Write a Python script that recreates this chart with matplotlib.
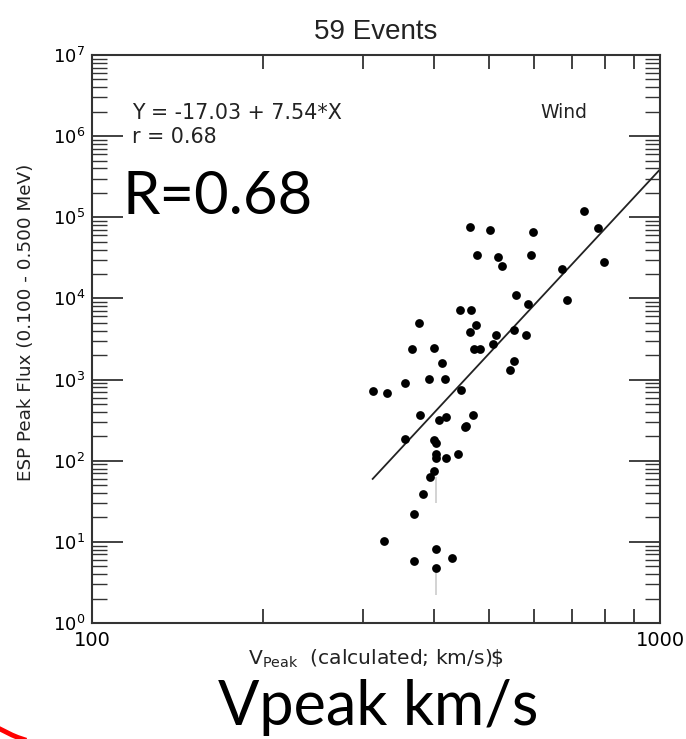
import matplotlib
matplotlib.use("Agg")
import matplotlib.pyplot as plt
import matplotlib.ticker as mticker
from matplotlib.lines import Line2D
import numpy as np

# speed (km/s) and peak flux for the 59 events
vpeak = [463, 502, 598, 736, 779, 798, 476, 519, 526, 593,
         671, 687, 558, 586, 445, 465, 377, 475, 462, 515,
         553, 581, 508, 471, 483, 366, 400, 414, 554, 544,
         356, 392, 418, 312, 331, 446, 378, 409, 420, 468,
         453, 456, 356, 400, 404, 403, 403, 420, 441, 400,
         394, 383, 369, 326, 403, 369, 430, 403]
flux = [7.66e4, 6.91e4, 6.64e4, 1.2e5, 7.44e4, 2.79e4, 3.46e4, 3.27e4, 2.49e4, 3.46e4,
        2.31e4, 9.57e3, 1.1e4, 8.54e3, 7.14e3, 7.14e3, 4.98e3, 4.71e3, 3.83e3, 3.51e3,
        4.05e3, 3.51e3, 2.77e3, 2.36e3, 2.36e3, 2.38e3, 2.47e3, 1.6e3, 1.68e3, 1.31e3,
        907, 1016, 1016, 729, 683, 744, 363, 318, 346, 363,
        258, 270, 187, 182, 164, 120, 108, 107, 120, 75.4,
        63.6, 38.9, 21.9, 10.2, 8.24, 5.86, 6.27, 4.72]

# faint error bars
err_v = [403, 403]
err_lo = [30, 2.2]
err_hi = [63, 4.7]

fit_a = -17.03
fit_b = 7.54

W, H = 686, 739
fig = plt.figure(figsize=(W / 100, H / 100), dpi=100)
ax = fig.add_axes([92/W, 1 - 623/H, 568/W, 568/H])

ax.vlines(err_v, err_lo, err_hi, color="#cccccc", lw=1.2, zorder=1)
ax.scatter(vpeak, flux, s=40, color="black", zorder=3, linewidths=0)

xfit = np.array([min(vpeak), 1000])
ax.plot(xfit, 10 ** (fit_a + fit_b * np.log10(xfit)), color="#222222", lw=1.3, zorder=2)

ax.set_xscale("log")
ax.set_yscale("log")
ax.set_xlim(100, 1000)
ax.set_ylim(1, 1e7)

for s in ax.spines.values():
    s.set_color("#333333")
    s.set_linewidth(1.5)

ax.xaxis.set_major_locator(mticker.FixedLocator([100, 1000]))
ax.xaxis.set_major_formatter(mticker.FixedFormatter(["100", "1000"]))
ax.xaxis.set_minor_locator(mticker.FixedLocator(list(range(200, 1000, 100))))
ax.xaxis.set_minor_formatter(mticker.NullFormatter())
ax.yaxis.set_major_locator(mticker.LogLocator(base=10, numticks=10))
ax.yaxis.set_minor_locator(mticker.LogLocator(base=10, subs=np.arange(2, 10), numticks=20))
ax.yaxis.set_minor_formatter(mticker.NullFormatter())

ax.tick_params(axis="x", which="major", length=0, pad=6, labelsize=14)
ax.tick_params(axis="x", which="minor", direction="in", length=10, width=1.3,
               top=True, bottom=True, color="#333333")
ax.tick_params(axis="y", which="major", direction="in", length=22, width=1.3,
               left=True, right=True, labelsize=13, pad=5, color="#333333")
ax.tick_params(axis="y", which="minor", direction="in", length=11, width=1.0,
               left=True, right=True, color="#333333")

fig.text(376/W, 1 - 32/H, "59 Events", fontsize=20, ha="center", va="center",
         family="Liberation Sans", color="#222222")
ax.set_ylabel("ESP Peak Flux (0.100 - 0.500 MeV)", fontsize=13.2, color="#222222")
ax.yaxis.set_label_coords(-0.10, 0.53)
ax.set_xlabel(r"V$_{\mathrm{Peak}}$  (calculated; km/s)\$", fontsize=14.6, color="#222222")
ax.xaxis.set_label_coords(0.5, -0.044)

ax.text(0.07, 0.898, "Y = -17.03 + 7.54*X", transform=ax.transAxes, fontsize=14.9,
        va="center", color="#222222")
ax.text(0.07, 0.856, "r = 0.68", transform=ax.transAxes, fontsize=14.9,
        va="center", color="#222222")
ax.text(0.789, 0.898, "Wind", transform=ax.transAxes, fontsize=13.5,
        va="center", color="#222222")
ax.text(0.053, 0.75, "R=0.68", transform=ax.transAxes, fontsize=43,
        va="center", family="Lato")

fig.text(378/W, 1 - 725/H, "Vpeak km/s", fontsize=44, ha="center", va="baseline", family="Lato")

# red swoosh in the lower left corner
fig.add_artist(Line2D(np.array([0, 6, 12, 18, 24]) / W,
                      1 - np.array([729, 732, 735, 737.5, 739.5]) / H,
                      transform=fig.transFigure, color="red", lw=3.5))

fig.savefig("out.png", dpi=100)
